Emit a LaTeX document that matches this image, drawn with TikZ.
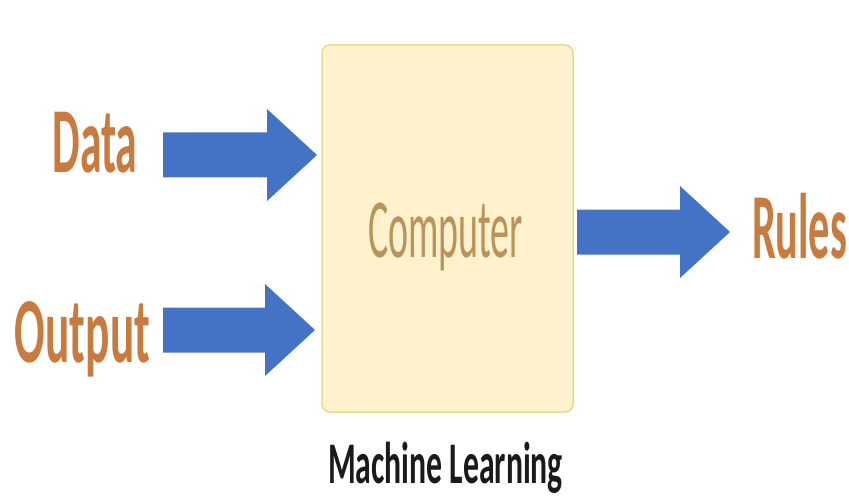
\documentclass[tikz,border=0pt]{standalone}
\usepackage{fontspec}
\setmainfont{Carlito}
\usetikzlibrary{calc}
\definecolor{arrowblue}{HTML}{4472C4}
\definecolor{boxfill}{HTML}{FFF2CC}
\definecolor{boxedge}{HTML}{EAD992}
\definecolor{labelorange}{HTML}{C97B3F}
\definecolor{innertext}{HTML}{B8935A}
\definecolor{captiontext}{HTML}{1A1A1A}

% block arrow from shaft start #1 to tip #2 (horizontal)
\newcommand\blockarr[2]{%
  \fill[blockarrow] ($(#1)+(0,-22.5)$) -- ($(#2)+(-50,-22.5)$) -- ($(#2)+(-50,-46)$)
    -- (#2) -- ($(#2)+(-50,46)$) -- ($(#2)+(-50,22.5)$) -- ($(#1)+(0,22.5)$) -- cycle;}

\begin{document}
\begin{tikzpicture}[x=1pt,y=-1pt,
  lbl/.style={anchor=base, inner sep=0pt, text=labelorange},
  blockarrow/.style={fill=arrowblue},
  procbox/.style={draw=boxedge, fill=boxfill, line width=1.5pt, rounded corners=8pt,
    minimum width=251pt, minimum height=367pt, inner sep=0pt}]
\useasboundingbox[fill=white] (0,0) rectangle (849,500);

% processing box
\node[procbox] (box) at (447.5,228.5) {};
\node[anchor=base, inner sep=0pt, text=innertext] (comp) at (445.5,257)
  {\resizebox{155pt}{\height}{\fontsize{84}{84}\selectfont Computer}};
\node[anchor=base, inner sep=0pt, text=captiontext] (cap) at (445.5,483)
  {\resizebox{235pt}{\height}{\fontsize{59}{59}\selectfont\bfseries Machine Learning}};

% inputs and output labels
\node[lbl] (data) at (95,173)
  {\resizebox{85pt}{\height}{\fontsize{93}{93}\selectfont\bfseries Data}};
\node[lbl] (out) at (82.5,362)
  {\resizebox{135pt}{\height}{\fontsize{93}{93}\selectfont\bfseries Output}};
\node[lbl] (rules) at (799.5,258)
  {\resizebox{95pt}{\height}{\fontsize{93}{93}\selectfont\bfseries Rules}};

% arrow end points
\coordinate (dataS) at (163,155);
\coordinate (dataT) at (317,155);
\coordinate (outS) at (163,330);
\coordinate (outT) at (315,330);
\coordinate (rulS) at (577,232);
\coordinate (rulT) at (730,232);

\blockarr{dataS}{dataT}
\blockarr{outS}{outT}
\blockarr{rulS}{rulT}
\end{tikzpicture}
\end{document}
